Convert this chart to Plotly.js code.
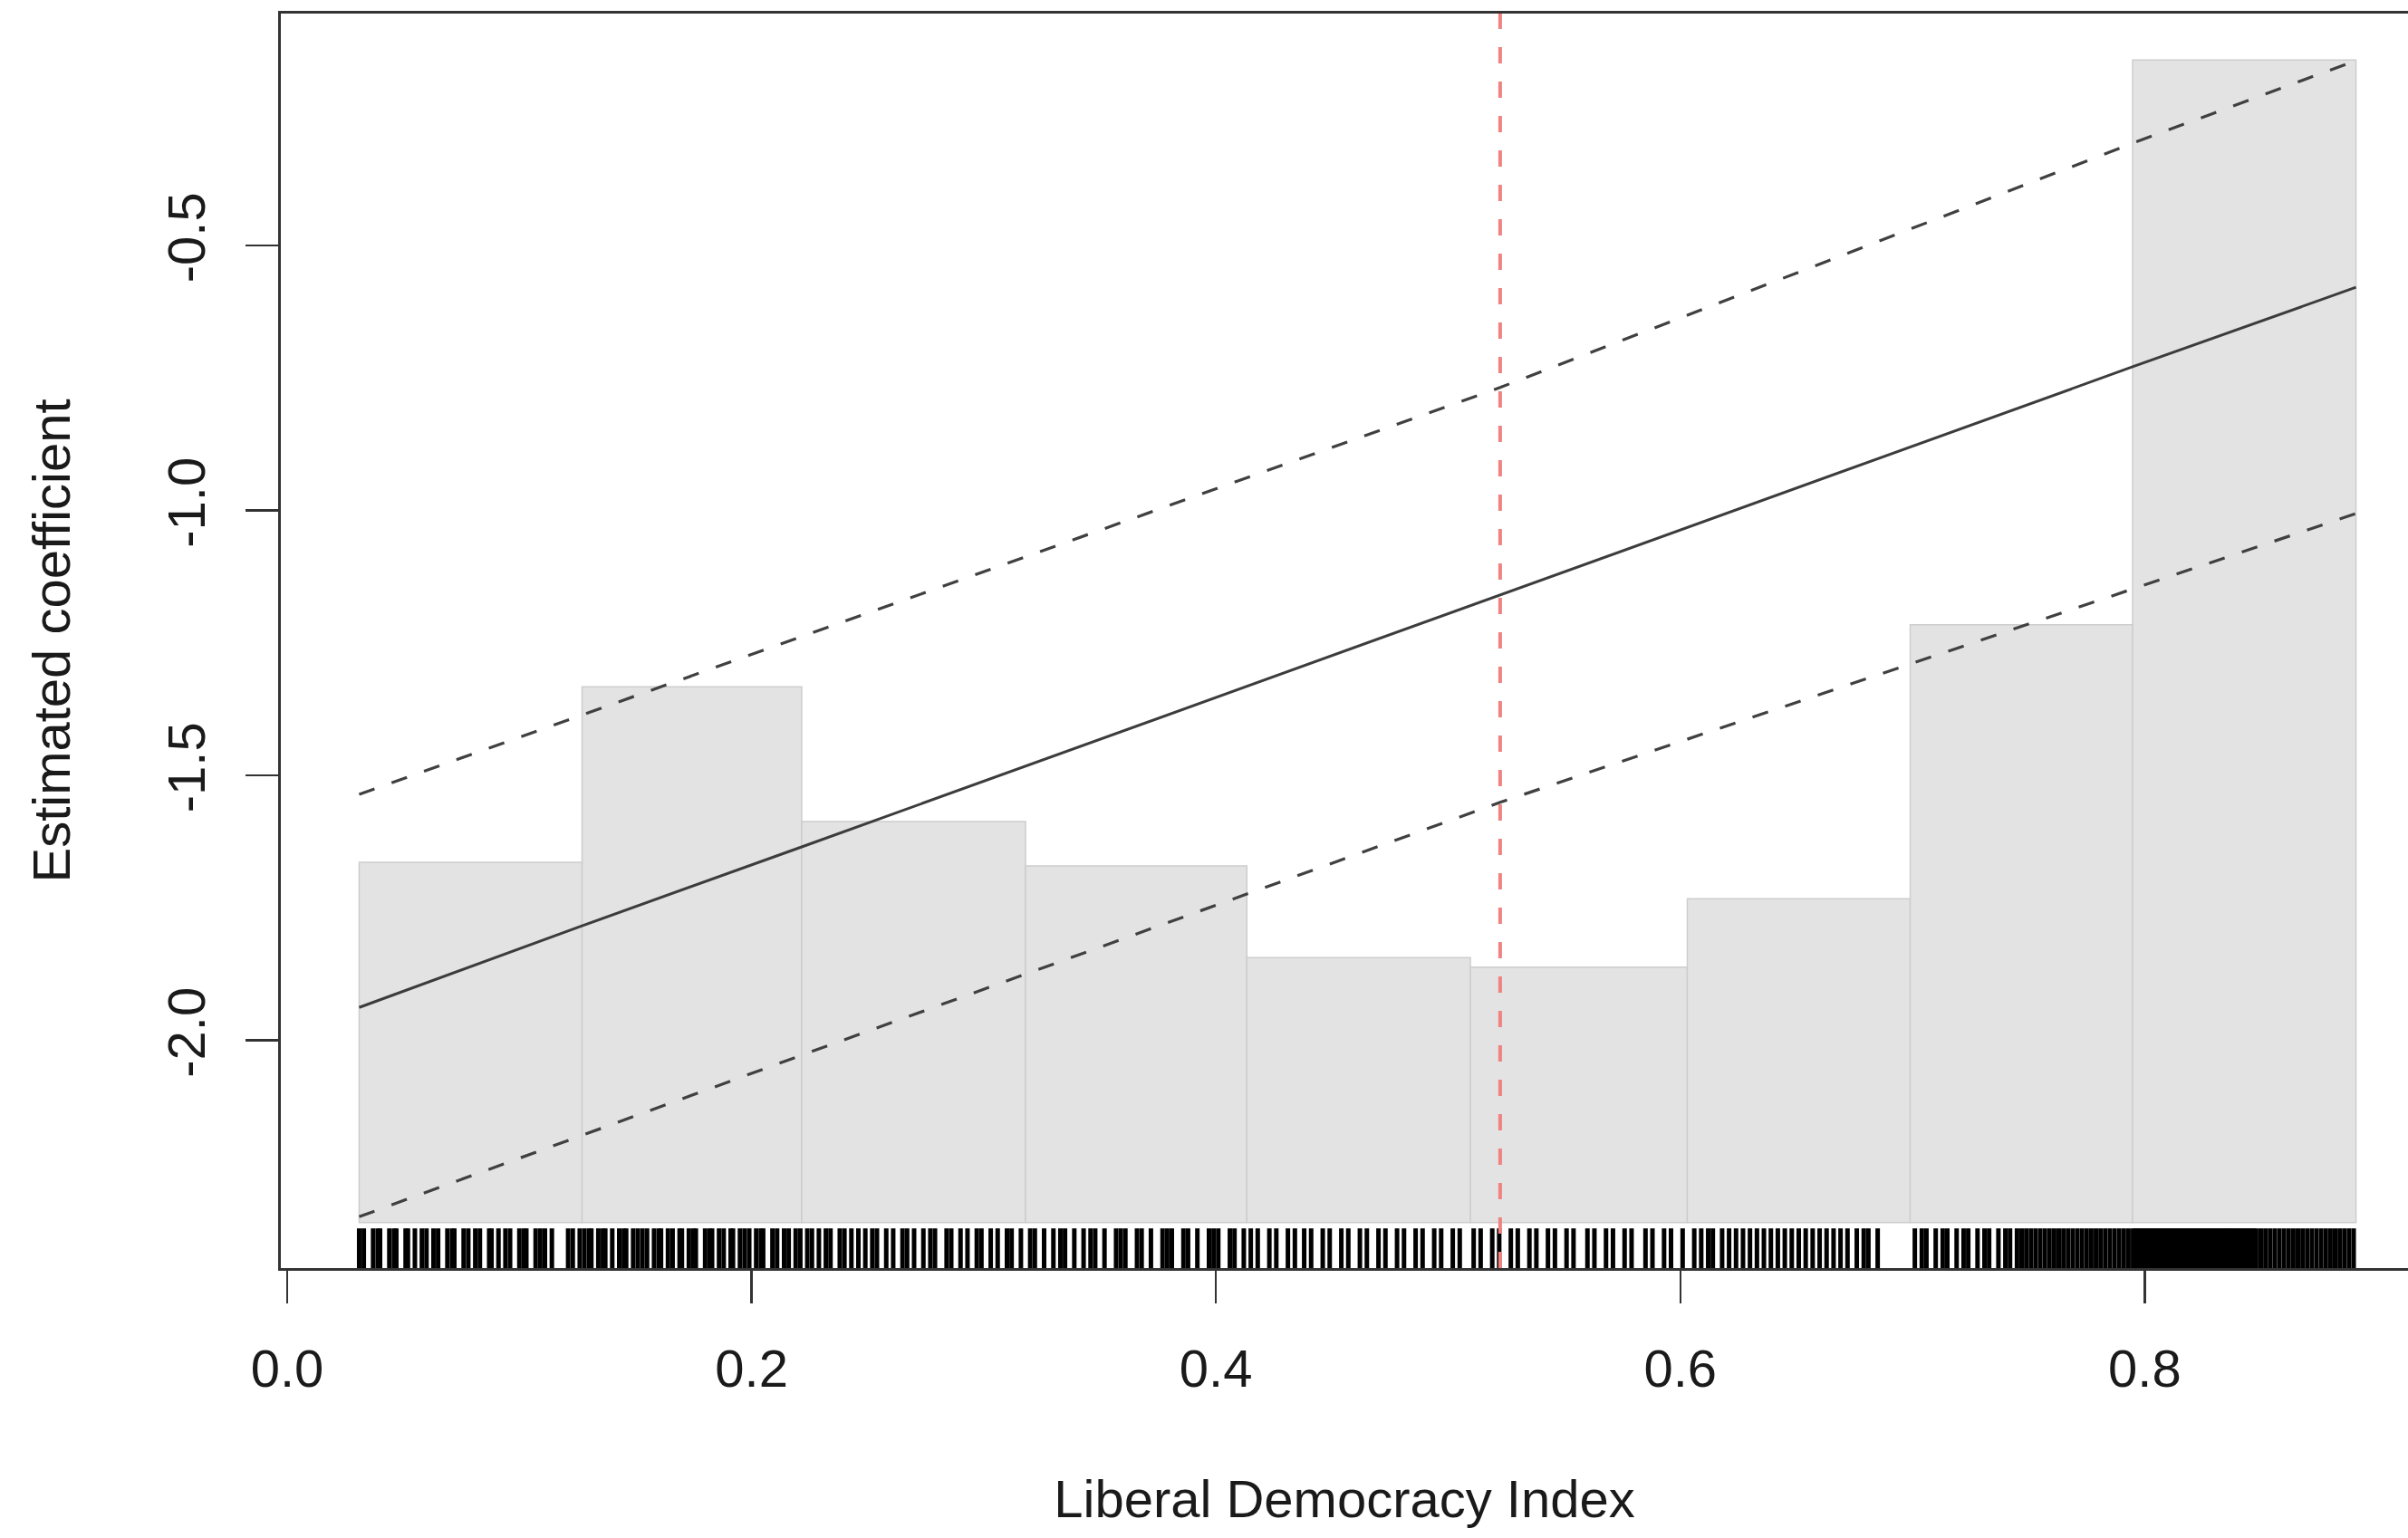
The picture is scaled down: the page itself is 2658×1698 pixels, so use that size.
<!DOCTYPE html>
<html>
<head>
<meta charset="utf-8">
<script src="https://cdn.plot.ly/plotly-3.0.1.min.js"></script>
<style>
  html, body { margin: 0; padding: 0; background: #ffffff; }
  #chart { width: 2658px; height: 1698px; }
</style>
</head>
<body>
<div id="chart"></div>
<script>
// ---------------- data ----------------
// histogram of the moderator (bin edges and the drawn bar tops, in y units)
const binEdges = [0.031, 0.127, 0.2216, 0.318, 0.4133, 0.5096, 0.603, 0.699, 0.7948, 0.891];
const histTop  = [-1.664, -1.333, -1.587, -1.671, -1.844, -1.862, -1.733, -1.216, -0.150];
const histBase = -2.344;

// estimated marginal effect and its confidence band
const estX   = [0.031, 0.127, 0.2216, 0.5224, 0.7948, 0.891];
const estY   = [-1.938, -1.784, -1.635, -1.160, -0.729, -0.579];
const upperX = [0.031, 0.5224, 0.7948, 0.891];
const upperY = [-1.536, -0.768, -0.307, -0.151];
const lowerX = [0.031, 0.2216, 0.5224, 0.7948, 0.891];
const lowerY = [-2.333, -2.028, -1.551, -1.148, -1.006];

// reference line (vertical, red dashed)
const refLineX = 0.5224;

// rug of observed moderator values
const rugX = [
  0.031,0.033,0.037,0.039,0.040,0.044,0.046,0.047,0.051,0.052,0.055,0.058,0.060,0.063,0.065,0.069,0.071,0.072,0.076,0.078,
  0.081,0.083,0.087,0.088,0.091,0.094,0.096,0.100,0.102,0.103,0.107,0.109,0.111,0.114,0.121,0.123,0.126,
  0.128,0.130,0.131,0.134,0.136,0.137,0.140,0.143,0.145,0.146,0.149,0.151,0.153,0.155,0.158,0.160,0.161,0.164,0.166,0.169,
  0.170,0.173,0.175,0.176,0.180,0.182,0.183,0.186,0.188,0.191,0.192,0.195,0.197,0.199,0.202,0.204,0.205,0.209,0.211,0.214,
  0.216,0.219,0.221,
  0.224,0.226,0.229,0.232,0.234,0.238,0.240,0.243,0.246,0.249,0.252,0.254,0.258,0.261,0.265,0.267,0.270,0.274,0.277,0.279,
  0.284,0.286,0.290,0.293,0.297,0.299,0.303,0.306,0.310,0.312,0.316,
  0.320,0.322,0.326,0.330,0.333,0.335,0.339,0.343,0.346,0.348,0.352,0.357,0.359,0.361,0.366,0.368,0.372,0.377,0.379,0.381,
  0.386,0.388,0.392,0.397,0.399,0.401,0.406,0.408,0.412,
  0.415,0.418,0.423,0.426,0.431,0.434,0.438,0.441,0.446,0.449,0.454,0.457,0.462,0.465,0.470,0.473,0.478,0.481,0.486,0.489,
  0.494,0.497,0.502,0.505,
  0.511,0.514,0.519,0.522,0.527,0.530,0.535,0.538,0.543,0.546,0.551,0.554,0.560,0.563,0.568,0.571,0.576,0.579,0.585,0.588,
  0.593,0.596,0.601,
  0.606,0.609,0.612,0.614,0.618,0.621,0.624,0.627,0.630,0.633,0.636,0.639,0.642,0.645,0.648,0.651,0.654,0.657,0.660,0.663,
  0.666,0.669,0.672,0.676,0.679,0.681,0.685,
  0.701,0.704,0.706,0.710,0.713,0.715,0.719,0.722,0.724,0.728,0.731,0.733,0.737,0.740,0.742,0.745,0.747,0.749,0.751,0.753,
  0.755,0.757,0.759,0.761,0.763,0.765,0.767,0.769,0.771,0.773,0.775,0.777,0.779,0.781,0.783,0.785,0.787,0.789,0.791,0.793,
  0.795,0.796,0.797,0.798,0.799,0.800,0.801,0.802,0.803,0.804,0.805,0.806,0.807,0.808,0.809,0.810,0.811,0.812,0.813,0.814,
  0.815,0.816,0.817,0.818,0.819,0.820,0.821,0.822,0.823,0.824,0.825,0.826,0.827,0.828,0.829,0.830,0.831,0.832,0.833,0.834,
  0.835,0.836,0.837,0.838,0.839,0.840,0.841,0.842,0.843,0.844,0.845,0.846,0.847,0.848,0.850,0.852,0.854,0.856,0.858,0.860,
  0.862,0.864,0.866,0.868,0.870,0.872,0.874,0.876,0.878,0.880,0.882,0.884,0.886,0.888,0.890
];

// axis ticks
const xTickVals = [0.0, 0.2, 0.4, 0.6, 0.8];
const xTickText = ["0.0", "0.2", "0.4", "0.6", "0.8"];
const yTickVals = [-2.0, -1.5, -1.0, -0.5];
const yTickText = ["-2.0", "-1.5", "-1.0", "-0.5"];

const xTitle = "Liberal Democracy Index";
const yTitle = "Estimated coefficient";

// ---------------- layout constants ----------------
const X_RANGE = [-0.00273, 0.9134];
const Y_RANGE = [-2.4299, -0.0624];
const RUG_TOP = -2.355;
const FONT = "Liberation Sans, Arial, Helvetica, sans-serif";
const FS = 58;

// ---------------- traces ----------------
const barCenters = [], barWidths = [], barLens = [];
for (let i = 0; i < histTop.length; i++) {
  barCenters.push((binEdges[i] + binEdges[i + 1]) / 2);
  barWidths.push(binEdges[i + 1] - binEdges[i]);
  barLens.push(histTop[i] - histBase);
}

const histTrace = {
  type: "bar",
  x: barCenters,
  y: barLens,
  base: histBase,
  width: barWidths,
  marker: { color: "#e3e3e3", line: { color: "#cdcdcd", width: 1.5 } },
  hoverinfo: "skip"
};

const rx = [], ry = [];
rugX.forEach(v => { rx.push(v, v, null); ry.push(Y_RANGE[0], RUG_TOP, null); });
const rugTrace = {
  type: "scatter", mode: "lines", x: rx, y: ry,
  line: { color: "#000000", width: 5 },
  hoverinfo: "skip", connectgaps: false
};

const upperTrace = {
  type: "scatter", mode: "lines", x: upperX, y: upperY,
  line: { color: "#404040", width: 3.2, dash: "18px,20px" }, hoverinfo: "skip"
};
const lowerTrace = {
  type: "scatter", mode: "lines", x: lowerX, y: lowerY,
  line: { color: "#404040", width: 3.2, dash: "18px,20px" }, hoverinfo: "skip"
};
const estTrace = {
  type: "scatter", mode: "lines", x: estX, y: estY,
  line: { color: "#3c3c3c", width: 3 }, hoverinfo: "skip"
};

const layout = {
  width: 2658, height: 1698,
  margin: { l: 310, r: 0, t: 15, b: 298, pad: 0 },
  paper_bgcolor: "#ffffff", plot_bgcolor: "#ffffff",
  showlegend: false,
  font: { family: FONT, size: FS, color: "#1a1a1a" },
  bargap: 0,
  xaxis: {
    range: X_RANGE, autorange: false,
    showgrid: false, zeroline: false,
    showline: true, linecolor: "#333333", linewidth: 3, mirror: true,
    ticks: "outside", ticklen: 36, tickwidth: 2.5, tickcolor: "#333333",
    tickvals: xTickVals, ticktext: xTickText,
    tickfont: { family: FONT, size: FS, color: "#1a1a1a" },
    ticklabelstandoff: 22,
    title: { text: xTitle, font: { family: FONT, size: FS, color: "#1a1a1a" }, standoff: 93 },
    automargin: false
  },
  yaxis: {
    range: Y_RANGE, autorange: false,
    showgrid: false, zeroline: false,
    showline: true, linecolor: "#333333", linewidth: 3, mirror: false,
    ticks: "outside", ticklen: 36, tickwidth: 2.5, tickcolor: "#333333",
    tickvals: yTickVals, ticktext: yTickText, tickangle: -90,
    tickfont: { family: FONT, size: FS, color: "#1a1a1a" },
    ticklabelstandoff: 22,
    title: { text: yTitle, font: { family: FONT, size: FS, color: "#1a1a1a" }, standoff: 77 },
    automargin: false
  },
  shapes: [{
    type: "line", xref: "x", yref: "paper",
    x0: refLineX, x1: refLineX, y0: 0, y1: 1,
    line: { color: "#f08282", width: 4, dash: "18px,20px" },
    layer: "above"
  }]
};

Plotly.newPlot("chart", [histTrace, rugTrace, upperTrace, lowerTrace, estTrace], layout,
  { staticPlot: true, displayModeBar: false });
</script>
</body>
</html>
